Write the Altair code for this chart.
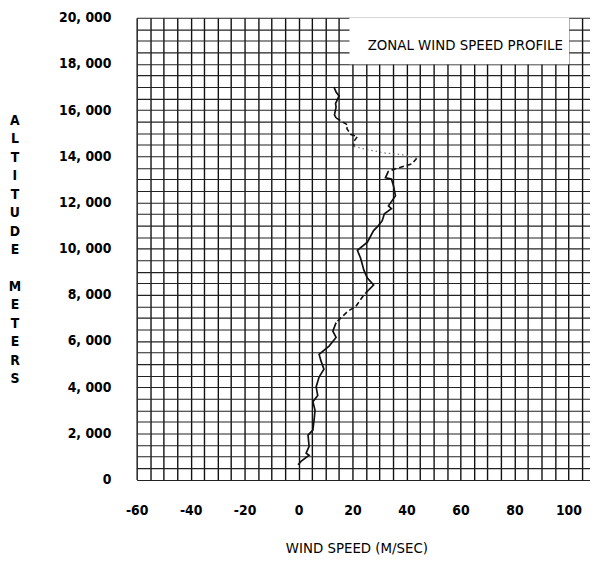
import altair as alt
import pandas as pd

# Zonal wind speed profile (altitude in m, speed in m/s)
ALTITUDE = [17000, 16785, 16613, 16283, 16130, 15788, 15660,
            15488, 15357, 15198, 14941, 14855, 14640, 14427,
            14298, 14139, 14070, 13912,
            13668, 13496, 13355,
            13068, 13012, 12712, 12283, 11854, 11726, 11511, 11211, 10997, 10782,
            10281, 9925, 9582, 9067, 8724, 8424, 8210, 7996,
            7494, 7280, 6795,
            6422, 6152, 5779, 5423, 5136, 4780, 4437, 4009, 3636, 3366, 2993,
            2637, 2135, 1921, 1436, 1136, 1050, 793, 635]
SPEED = [13.1, 13.9, 15.0, 13.7, 13.9, 13.3, 13.9,
         16.3, 18.2, 17.9, 19.4, 21.8, 20.5, 20.5,
         24.9, 32.2, 38.3, 43.8,
         42.0, 37.0, 33.3,
         32.2, 34.4, 35.2, 35.9, 33.3, 34.4, 31.8, 31.0, 29.6, 27.8,
         25.5, 21.8, 23.0, 24.2, 25.5, 27.8, 26.0, 24.2,
         21.2, 18.2, 13.9,
         12.7, 13.9, 11.3, 7.6, 8.3, 9.4, 7.6, 6.5, 7.1, 5.3, 6.1,
         5.8, 5.3, 3.5, 3.9, 2.8, 3.9, 1.0, -0.2]
# style of the piece of trace that starts at each point
STYLE = (["solid"] * 6 + ["dashed"] * 7 + ["dotted"] * 4 + ["dashed"] * 3
         + ["solid"] * 17 + ["dashed"] * 4 + ["solid"] * 20)

X_TICKS = [-60, -40, -20, 0, 20, 40, 60, 80, 100]
Y_TICKS = [0, 2000, 4000, 6000, 8000, 10000, 12000, 14000, 16000, 18000, 20000]
X_GRID = list(range(-60, 106, 5))
Y_GRID = list(range(0, 20001, 500))

TITLE = "ZONAL WIND SPEED PROFILE"
X_TITLE = "WIND SPEED (M/SEC)"
Y_TITLE_1 = "ALTITUDE"
Y_TITLE_2 = "METERS"

FONT = "DejaVu Sans Condensed, sans-serif"

# group consecutive points of the same style into runs (sharing end points)
rows = []
run = 0
for i in range(len(ALTITUDE) - 1):
    if i > 0 and STYLE[i] != STYLE[i - 1]:
        run += 1
    for j in (i, i + 1):
        rows.append({"altitude": ALTITUDE[j], "speed": SPEED[j],
                     "style": STYLE[i], "run": run, "order": j})
df = pd.DataFrame(rows).drop_duplicates(subset=["run", "order"])

W, H = 458, 466.5

x_scale = alt.Scale(domain=[-60, 108], nice=False, zero=False)
y_scale = alt.Scale(domain=[0, 20000], nice=False, zero=False)

x_axis = alt.Axis(
    values=X_GRID, grid=True, gridColor="#111111", gridWidth=1.4, gridOpacity=1,
    domain=False, ticks=False, tickSize=0, labelFlush=False, labelOverlap=False,
    labelExpr="datum.value % 20 == 0 && datum.value <= 100 ? toString(datum.value) : ''",
    labelFont=FONT, labelFontSize=14, labelFontWeight="bold", labelColor="#000000",
    labelPadding=24,
    title=X_TITLE, titleFont=FONT, titleFontSize=15, titleFontWeight="normal",
    titleColor="#000000", titleX=222, titleY=69, titleBaseline="middle",
    titleAlign="center",
)
y_axis = alt.Axis(
    values=Y_GRID, grid=True, gridColor="#222222", gridWidth=1.1, gridOpacity=1,
    domain=False, ticks=False, tickSize=0, labelFlush=False, labelOverlap=False,
    labelExpr="datum.value % 2000 == 0 ? (datum.value == 0 ? '0' : replace(format(datum.value, ','), ',', ', ')) : ''",
    labelFont=FONT, labelFontSize=14, labelFontWeight="bold", labelColor="#000000",
    labelPadding=26,
)

base = alt.Chart(df).encode(
    x=alt.X("speed:Q", scale=x_scale, axis=x_axis),
    y=alt.Y("altitude:Q", scale=y_scale, axis=y_axis, title=None),
    order=alt.Order("order:Q"),
    detail="run:N",
)

solid = base.transform_filter(alt.datum.style == "solid").mark_line(
    color="#111111", strokeWidth=1.7, clip=True)
dashed = base.transform_filter(alt.datum.style == "dashed").mark_line(
    color="#111111", strokeWidth=1.6, strokeDash=[5, 3], clip=True)
dotted = base.transform_filter(alt.datum.style == "dotted").mark_line(
    color="#777777", strokeWidth=1.3, strokeDash=[1.5, 3], clip=True)

box = alt.Chart(pd.DataFrame({"t": [TITLE]})).mark_rect(
    fill="white").encode(
    x=alt.value(215), x2=alt.value(437), y=alt.value(0), y2=alt.value(47))
label = alt.Chart(pd.DataFrame({"t": [TITLE]})).mark_text(
    font=FONT, fontSize=15, color="#000000", align="center", baseline="middle").encode(
    text="t:N", x=alt.value(332), y=alt.value(28))

def stacked(word, top):
    return alt.Chart(pd.DataFrame({"t": ["\n".join(word)]})).mark_text(
        font=FONT, fontSize=14, fontWeight="bold", color="#000000", align="center",
        baseline="top", lineBreak="\n", lineHeight=18.7).encode(
        text="t:N", x=alt.value(-123), y=alt.value(top))

ytitle1 = stacked(Y_TITLE_1, 97)
ytitle2 = stacked(Y_TITLE_2, 265)

chart = alt.layer(solid, dashed, dotted, box, label, ytitle1, ytitle2).properties(
    width=W, height=H,
    autosize=alt.AutoSizeParams(type="none"),
    padding={"left": 130, "top": 7, "right": 0, "bottom": 76},
).configure_view(stroke=None)

chart.save("out.html", embed_options={"renderer": "svg", "actions": False})
